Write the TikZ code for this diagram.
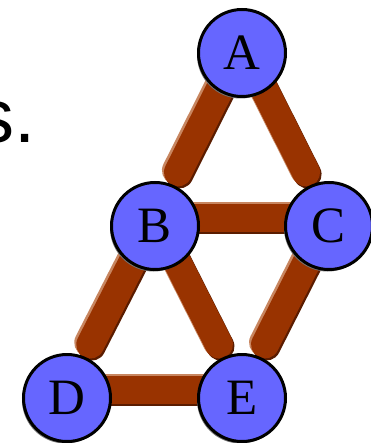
\documentclass[tikz,border=0pt]{standalone}
\usepackage{fontspec}
\setmainfont{Liberation Serif}
\newfontfamily\slidesans{Liberation Sans}
\usetikzlibrary{shadows}

\definecolor{barbrown}{HTML}{993300}
\definecolor{barlight}{HTML}{C88660}
\definecolor{bardark}{HTML}{5A1C00}
\definecolor{vertexblue}{HTML}{6666FF}

\begin{document}
\begin{tikzpicture}[x=1pt, y=-1pt,
    vertex/.style={draw, circle, line width=3pt, fill=vertexblue, minimum size=87pt, inner sep=0pt,
        font=\fontsize{51}{51}\selectfont,
        drop shadow={shadow xshift=-1.5pt, shadow yshift=-2pt, fill=black!55, opacity=1}},
    bar/.style={line width=28pt, line cap=round, barbrown},
    barhi/.style={line width=28pt, line cap=round, barlight},
    barlo/.style={line width=28pt, line cap=round, bardark},
    down/.style={shorten >=51pt}
]
    \useasboundingbox (0,0) rectangle (370,443);

    \node[anchor=base west, inner sep=0pt, font=\slidesans\fontsize{76}{76}\selectfont] (tail) at (-24,143) {s.};

    \coordinate (pA) at (242,53);
    \coordinate (pB) at (155,226);
    \coordinate (pC) at (329,226);
    \coordinate (pD) at (67,398);
    \coordinate (pE) at (242,398);

    % edges: light rim, dark rim, then the bar itself
    \begin{scope}[transform canvas={xshift=-2pt, yshift=10pt}]
        \foreach \u/\v in {A/B, A/C, B/D, B/E, C/E}
            \draw[barhi, down] (p\u) -- (p\v);
        \draw[barhi] (pB) -- (pC);
        \draw[barhi] (pD) -- (pE);
    \end{scope}
    \begin{scope}[transform canvas={xshift=1.5pt, yshift=6pt}]
        \foreach \u/\v in {A/B, A/C, B/D, B/E, C/E}
            \draw[barlo, down] (p\u) -- (p\v);
        \draw[barlo] (pB) -- (pC);
        \draw[barlo] (pD) -- (pE);
    \end{scope}
    \begin{scope}[transform canvas={yshift=8pt}]
        \foreach \u/\v in {A/B, A/C, B/D, B/E, C/E}
            \draw[bar, down] (p\u) -- (p\v);
        \draw[bar] (pB) -- (pC);
        \draw[bar] (pD) -- (pE);
    \end{scope}

    % vertices
    \foreach \n in {A, B, C, D, E}
        \node[vertex] (v\n) at (p\n) {\n};
\end{tikzpicture}
\end{document}
